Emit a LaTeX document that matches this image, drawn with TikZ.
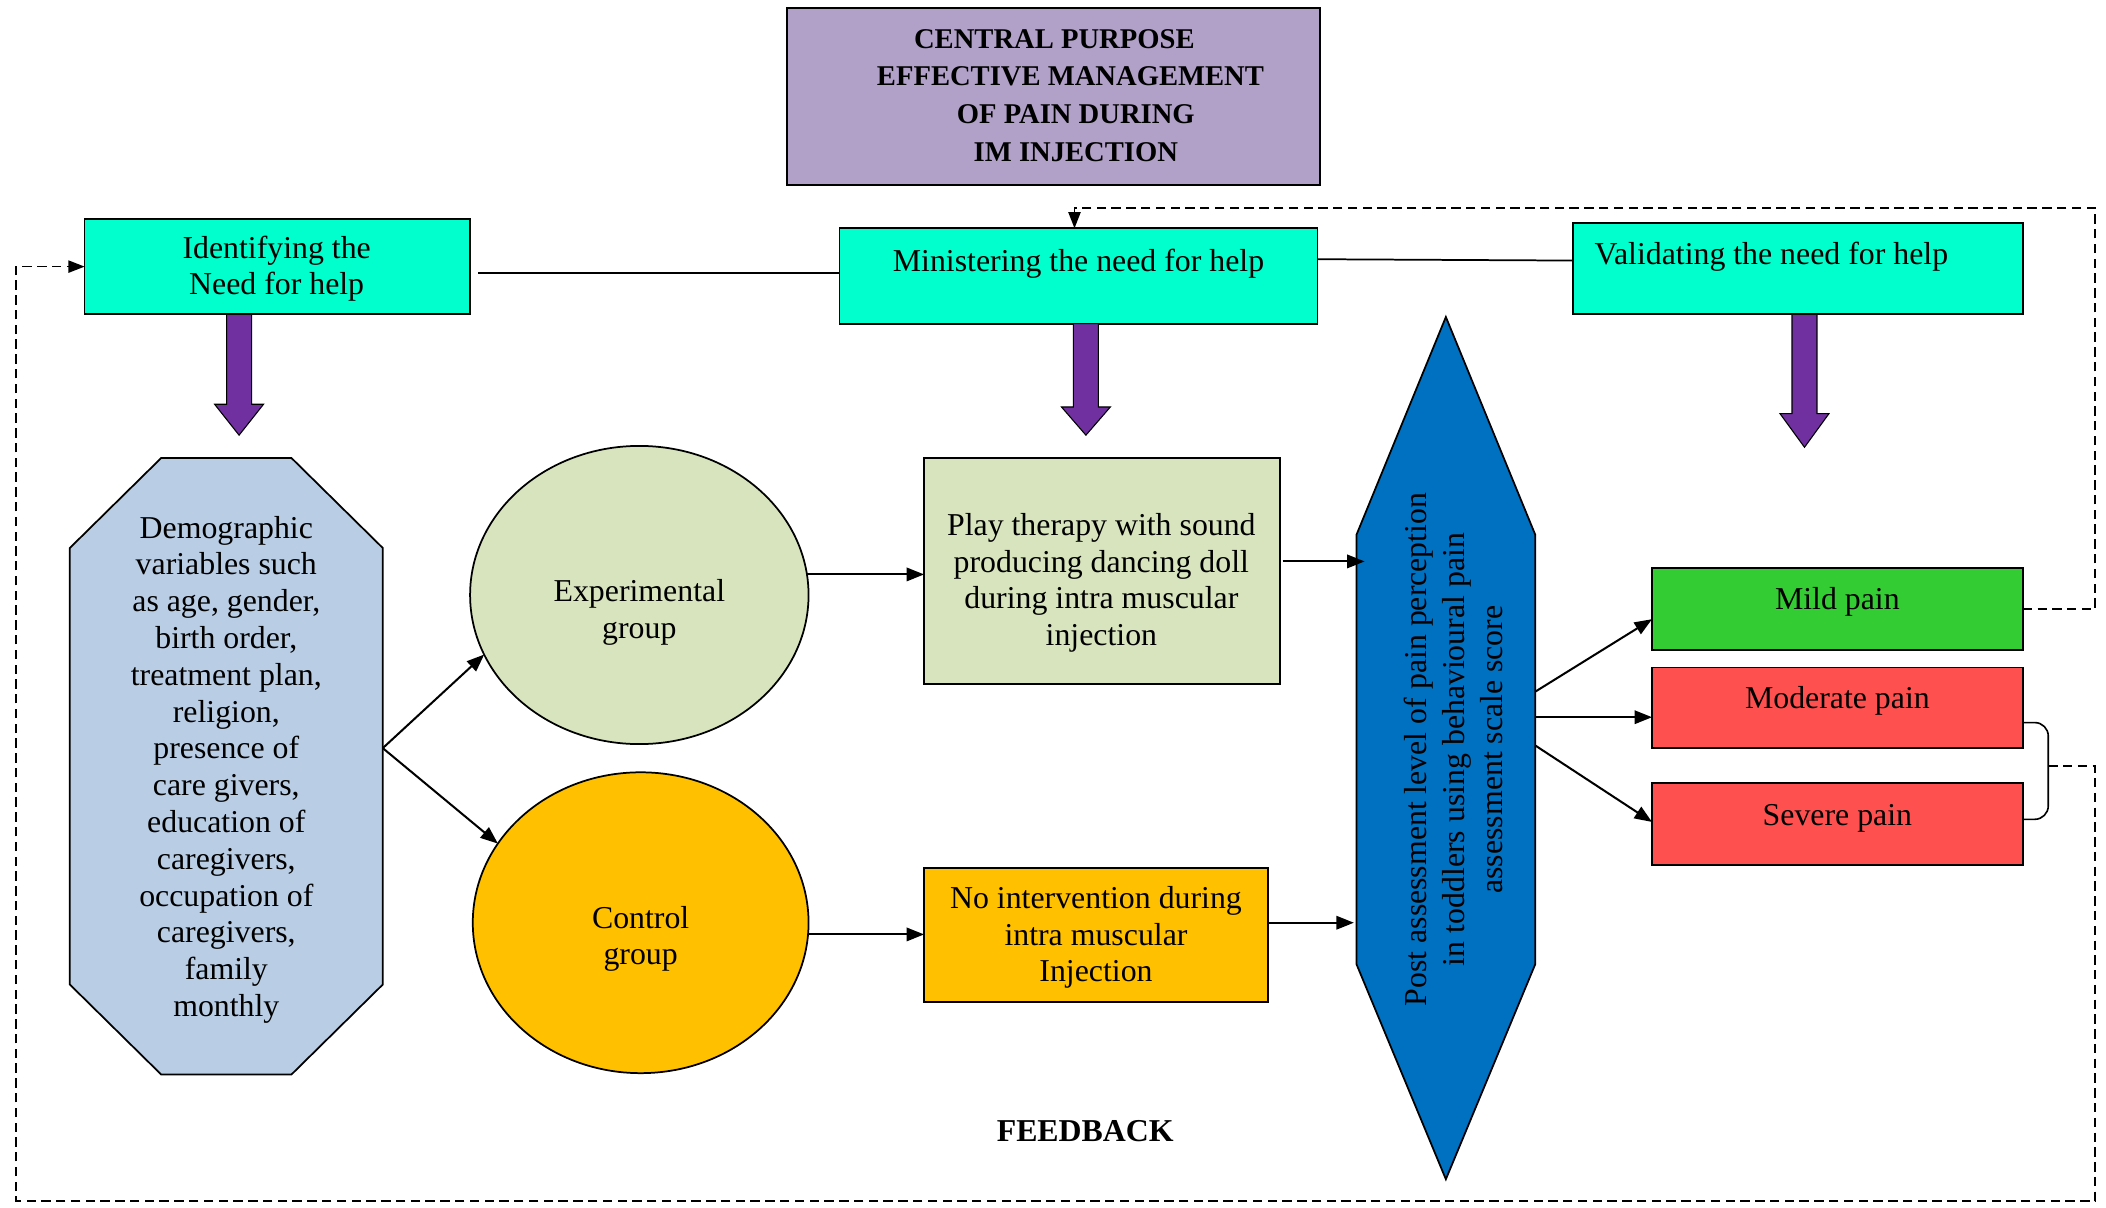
\documentclass[tikz,border=0pt]{standalone}
\usepackage{fontspec}
\setmainfont{Liberation Serif}
\usetikzlibrary{shapes.geometric,arrows.meta,calc}
\definecolor{lav}{HTML}{B1A0C7}
\definecolor{aqua}{HTML}{00FFCC}
\definecolor{purp}{HTML}{7030A0}
\definecolor{octblue}{HTML}{B9CDE5}
\definecolor{sage}{HTML}{D7E4BD}
\definecolor{amber}{HTML}{FFC000}
\definecolor{hexblue}{HTML}{0070C0}
\definecolor{mildgreen}{HTML}{33CC33}
\definecolor{painred}{HTML}{FF5050}
\newcommand\purplearrow[4]{%
  \filldraw[blockarr] ({#1-9.3},#2) -- ({#1+9.3},#2) -- ({#1+9.3},#3) -- ({#1+18.2},#3)
    -- (#1,#4) -- ({#1-18.2},#3) -- ({#1-9.3},#3) -- cycle;}
\begin{document}
\begin{tikzpicture}[x=1pt,y=-1pt,
  box/.style={draw=black,line width=1.3pt,inner sep=0pt,outer sep=0pt},
  ovalbox/.style={ellipse,draw=black,line width=1.3pt,inner sep=0pt,outer sep=0pt},
  txt/.style={font=\fontsize{23.7}{27.4}\selectfont,align=center,inner sep=0pt},
  ttl/.style={font=\fontsize{21.3}{28}\selectfont\bfseries,align=center,inner sep=0pt},
  conn/.style={line width=1.3pt},
  arr/.style={line width=1.5pt,-{Triangle[length=13pt,width=10pt]}},
  fb/.style={line width=1.3pt,dash pattern=on 7pt off 4pt},
  fbarr/.style={fb,-{Triangle[length=12pt,width=9pt]}},
  blockarr/.style={fill=purp,draw=black,line width=0.8pt}
]
\useasboundingbox (0,0) rectangle (1568,899);

% central purpose
\node[box,fill=lav,minimum width=397pt,minimum height=132pt] (central) at (784.5,72) {};
\node[ttl] (centraltxt) at (801,71) {CENTRAL PURPOSE\makebox[32pt]{}\\EFFECTIVE MANAGEMENT\makebox[8pt]{}\\OF PAIN DURING\\IM INJECTION};

% top boxes
\node[box,fill=aqua,minimum width=287pt,minimum height=71pt] (ident) at (206.5,198.5) {};
\node[txt] (identtxt) at (206,200) {Identifying the\\Need for help};
\node[box,fill=aqua,minimum width=356pt,minimum height=71pt] (min) at (803,205.5) {};
\node[txt] (mintxt) at (803,196) {Ministering the need for help};
\node[box,fill=aqua,minimum width=335pt,minimum height=68pt] (val) at (1338.5,200) {};
\node[txt,anchor=west] (valtxt) at (1187,191) {Validating the need for help};

\draw[conn] ([xshift=6pt,yshift=-4.5pt]ident.east) -- ([yshift=-4.5pt]ident.east -| min.west);
\draw[conn] ([yshift=12.5pt]min.east) -- ([yshift=6pt]val.west);

% purple block arrows
\purplearrow{178}{234}{301}{324}
\purplearrow{808.5}{241}{303}{324}
\purplearrow{1343.5}{234}{308}{333}

% octagon
\node[minimum width=233pt,minimum height=459pt,inner sep=0pt,outer sep=0pt] (oct) at (168.5,570.5) {};
\filldraw[fill=octblue,draw=black,line width=1.3pt]
  ([xshift=68pt]oct.north west) -- ([xshift=-68pt]oct.north east) -- ([yshift=-67pt]oct.north east)
  -- ([yshift=67pt]oct.south east) -- ([xshift=-68pt]oct.south east) -- ([xshift=68pt]oct.south west)
  -- ([yshift=67pt]oct.south west) -- ([yshift=-67pt]oct.north west) -- cycle;
\node[txt] (demo) at (168.5,573) {Demographic\\variables such\\as age, gender,\\birth order,\\treatment plan,\\religion,\\presence of\\care givers,\\education of\\caregivers,\\occupation of\\caregivers,\\family\\monthly};

% ellipses
\node[ovalbox,fill=sage,minimum width=252pt,minimum height=222pt] (exp) at (476,443) {};
\node[txt] (exptxt) at (476,456) {Experimental\\group};
\node[ovalbox,fill=amber,minimum width=250pt,minimum height=224pt] (ctrl) at (477,687) {};
\node[txt] (ctrltxt) at (477,699) {Control\\group};

% intervention boxes
\node[box,fill=sage,minimum width=265pt,minimum height=168pt] (play) at (820.5,425) {};
\node[txt] (playtxt) at (820,434) {Play therapy with sound\\producing dancing doll\\during intra muscular\\injection};
\node[box,fill=amber,minimum width=256pt,minimum height=100pt] (noint) at (816,696) {};
\node[txt] (nointtxt) at (816,698) {No intervention during\\intra muscular\\Injection};

% hexagon
\node[minimum width=133pt,minimum height=642pt,inner sep=0pt,outer sep=0pt] (hex) at (1076.5,557) {};
\filldraw[fill=hexblue,draw=black,line width=1.3pt]
  (hex.north) -- ([yshift=-162pt]hex.north east) -- ([yshift=160pt]hex.south east) -- (hex.south)
  -- ([yshift=160pt]hex.south west) -- ([yshift=-162pt]hex.north west) -- cycle;
\node[txt,rotate=90,font=\fontsize{23.7}{28.5}\selectfont] (posttxt) at (1082,558)
  {Post assessment level of pain perception\\in toddlers using behavioural pain\\assessment scale score};

% pain boxes
\node[box,fill=mildgreen,minimum width=276pt,minimum height=61pt] (mild) at (1368,453.5) {};
\node[txt] (mildtxt) at (1368,448) {Mild pain};
\node[box,fill=painred,minimum width=276pt,minimum height=60pt] (mod) at (1368,527) {};
\node[txt] (modtxt) at (1368,522) {Moderate pain};
\node[box,fill=painred,minimum width=276pt,minimum height=61pt] (sev) at (1368,613.5) {};
\node[txt] (sevtxt) at (1368,609) {Severe pain};

% arrows
\draw[arr] ([yshift=13.5pt]oct.east) -- (exp.201);
\draw[arr] ([yshift=13.5pt]oct.east) -- (ctrl.151);
\draw[arr] (exp.7) -- (exp.7 -| play.west);
\draw[arr] (ctrl.-4) -- (ctrl.-4 -| noint.west);
\draw[arr] ([xshift=2pt,yshift=7pt]play.east) -- ([xshift=6pt,yshift=7pt]play.east -| hex.west);
\draw[arr] ([xshift=1pt,yshift=9pt]noint.east) -- ([xshift=-2pt,yshift=9pt]noint.east -| hex.west);
\draw[arr] ([yshift=42pt]hex.east) -- ([yshift=-7.5pt]mild.west);
\draw[arr] ([yshift=23pt]hex.east) -- ([yshift=23pt]hex.east -| mod.west);
\draw[arr] ([yshift=2pt]hex.east) -- ([yshift=1.5pt]sev.west);

% brace
\coordinate (brace) at ($(mod.east)!0.5!(sev.east)+(19,0)$);
\draw[line width=1.2pt,rounded corners=10pt] ([yshift=-11pt]mod.east) -| (brace) |- ([yshift=3.5pt]sev.east);

% feedback loops
\draw[fbarr] (mild.east) -| (1560,155) -| ([xshift=-3pt]min.north);
\draw[fbarr] (brace) -| (1560,894) -- (12,894) |- (ident.west);

\node[txt,font=\fontsize{23.7}{27.4}\selectfont\bfseries] (feedback) at (808,842) {FEEDBACK};
\end{tikzpicture}
\end{document}
